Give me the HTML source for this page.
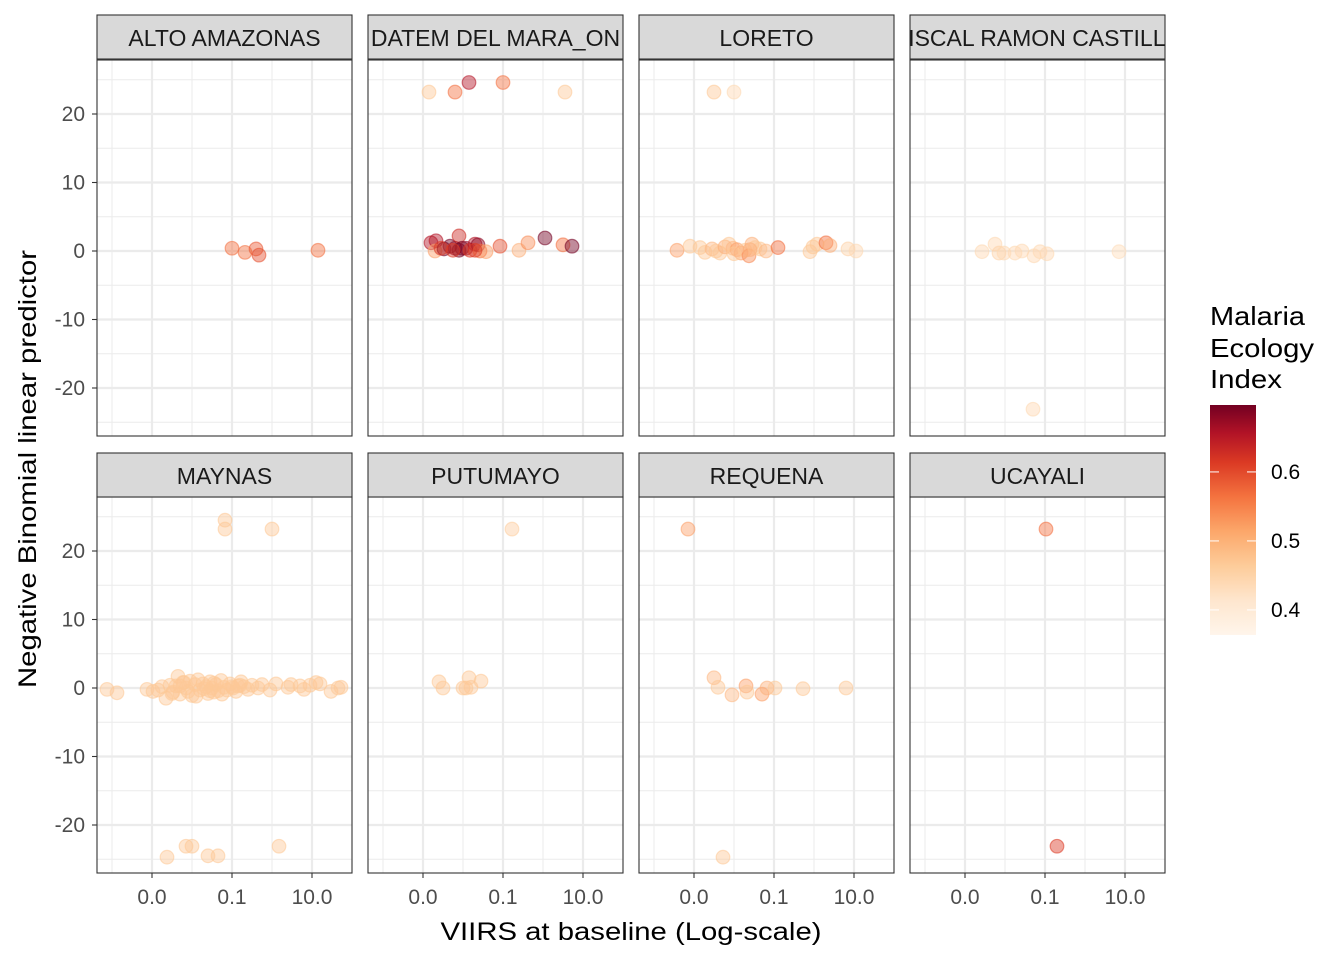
<!DOCTYPE html>
<html><head><meta charset="utf-8"><style>
body{margin:0;background:#fff;}
svg text{font-family:"Liberation Sans",Arial,sans-serif;}
</style></head><body>
<svg id="chart" width="1344" height="960" xmlns="http://www.w3.org/2000/svg">
<defs>
<linearGradient id="cbar" x1="0" y1="1" x2="0" y2="0">
<stop offset="0" stop-color="#fff5eb"/><stop offset="0.15" stop-color="#fee6ce"/><stop offset="0.3" stop-color="#fdcc9a"/><stop offset="0.45" stop-color="#fca76a"/><stop offset="0.6" stop-color="#f4733f"/><stop offset="0.75" stop-color="#db3a24"/><stop offset="0.88" stop-color="#b11226"/><stop offset="1" stop-color="#730022"/>
</linearGradient>
</defs>
<g id="panels"></g>
<text x="36" y="469" transform="rotate(-90 36 469)" text-anchor="middle" font-size="25" textLength="438" lengthAdjust="spacingAndGlyphs" fill="#000">Negative Binomial linear predictor</text>
<text x="631" y="940" text-anchor="middle" font-size="25" textLength="381" lengthAdjust="spacingAndGlyphs" fill="#000">VIIRS at baseline (Log-scale)</text>
<g>
<text x="1210" y="325" font-size="26" textLength="95" lengthAdjust="spacingAndGlyphs">Malaria</text>
<text x="1210" y="357" font-size="26" textLength="104" lengthAdjust="spacingAndGlyphs">Ecology</text>
<text x="1210" y="388" font-size="26" textLength="72" lengthAdjust="spacingAndGlyphs">Index</text>
<rect x="1210" y="405" width="46" height="230" fill="url(#cbar)"/>
<g id="cticks"></g>
</g>
</svg>
<script>
const NS="http://www.w3.org/2000/svg";
const panelNames=["ALTO AMAZONAS","DATEM DEL MARA_ON","LORETO","FISCAL RAMON CASTILLA","MAYNAS","PUTUMAYO","REQUENA","UCAYALI"];
const xTickVals=[-3,-1,1];
const xTickLabels=["0.0","0.1","10.0"];
const yTickVals=[20,10,0,-10,-20];
const yTickLabels=["20","10","0","-10","-20"];
const legendVals=[0.4,0.5,0.6];
// per-panel data: x = log10(VIIRS), y = linear predictor, m = malaria ecology index
const xAlto=[-1,-0.675,-0.4,-0.325,1.15];
const yAlto=[0.4,-0.2,0.3,-0.6,0.1];
const mAlto=[0.55,0.55,0.57,0.58,0.55];
const xDatem=[-2.85,-2.2,-1.85,-1,0.55,-2.8,-2.675,-2.7,-2.475,-2.325,-2.2,-2.1,-2.1,-2.025,-1.925,-1.825,-1.7,-1.625,-1.575,-1.425,-1.075,-0.6,-0.375,0.05,0.5,0.725,-2.55,-2.25,-1.7];
const yDatem=[23.2,23.2,24.6,24.6,23.2,1.2,1.5,0,0.3,0.7,0.4,2.2,0.1,0.4,0.4,0.1,1.0,0.9,0,-0.1,0.7,0.1,1.2,1.9,0.9,0.7,0.4,0.1,0.1];
const mDatem=[0.45,0.55,0.65,0.55,0.45,0.65,0.65,0.5,0.7,0.7,0.68,0.62,0.72,0.7,0.68,0.6,0.65,0.68,0.55,0.5,0.58,0.48,0.52,0.7,0.55,0.7,0.6,0.6,0.6];
const xLoreto=[-2.5,-2,-3.425,-3.1,-2.85,-2.725,-2.55,-2.45,-2.35,-2.225,-2.125,-2.025,-1.925,-1.825,-1.725,-1.625,-1.55,-1.475,-1.35,-1.2,-0.9,-0.1,-0.025,0.075,0.3,0.4,0.85,1.05,-2.0,-1.6];
const yLoreto=[23.2,23.2,0.1,0.7,0.5,-0.2,0.3,0,-0.3,0.6,1.0,0.4,0.2,-0.3,0.1,-0.7,1.0,0.5,0.3,0,0.5,-0.1,0.6,1.0,1.2,0.8,0.3,0,-0.4,0.2];
const mLoreto=[0.45,0.42,0.5,0.45,0.45,0.45,0.47,0.45,0.45,0.48,0.45,0.47,0.5,0.5,0.45,0.52,0.48,0.45,0.45,0.47,0.55,0.45,0.45,0.45,0.55,0.48,0.43,0.42,0.45,0.48];
const xFiscal=[-2.575,-2.25,-2.15,-2.025,-1.75,-1.575,-1.275,-1.125,-0.95,0.85,-1.3];
const yFiscal=[-0.1,1.0,-0.3,-0.3,-0.3,0,-0.7,-0.1,-0.4,-0.1,-23.1];
const mFiscal=[0.42,0.42,0.43,0.42,0.42,0.42,0.42,0.42,0.42,0.41,0.42];
const xMaynas=[-1.175,-1.175,0,-2.625,-2.15,-2.0,-1.6,-1.35,0.175,-4.125,-3.875,-3.125,-2.975,-2.85,-2.75,-2.65,-2.55,-2.475,-2.4,-2.35,-2.3,-2.225,-2.15,-2.1,-2.05,-2.0,-1.925,-1.85,-1.8,-1.725,-1.65,-1.6,-1.55,-1.5,-1.45,-1.4,-1.35,-1.275,-1.2,-1.125,-1.05,-0.975,-0.9,-0.85,-0.775,-0.7,-0.6,-0.5,-0.35,-0.25,-0.05,0.1,0.4,0.475,0.7,0.8,0.95,1.1,1.2,1.475,1.65,1.725,-2.5,-2.2,-1.9,-1.7,-1.45,-1.25,-1.0,-0.8,-2.3,-1.55];
const yMaynas=[24.5,23.2,23.2,-24.7,-23.1,-23.1,-24.5,-24.5,-23.1,-0.2,-0.7,-0.2,-0.5,-0.3,0.2,-1.5,0.4,-0.6,0.3,1.7,-0.9,0.8,0,-0.5,1.0,-1.1,0.5,1.2,-0.3,0.6,0.2,-0.8,0.9,0,-0.6,0.5,-0.4,1.1,0.1,-0.3,0.6,0,-0.5,0.3,0.9,0.2,-0.2,0.4,0,0.5,-0.3,0.6,0.1,0.5,0.3,-0.2,0.4,0.8,0.6,-0.5,0,0.1,-0.8,0.8,-1.2,-0.1,0.7,-0.9,0.2,0.4,0.3,-0.4];
const mMaynas=yMaynas.map(()=>0.45);
const xPutu=[-0.775,-2.6,-2.5,-2,-1.85,-1.8,-1.55,-1.925];
const yPutu=[23.2,0.9,0,0,1.5,0.1,1.0,0];
const mPutu=[0.44,0.45,0.45,0.45,0.45,0.45,0.45,0.45];
const xReq=[-3.15,-2.5,-2.4,-2.05,-1.7,-1.675,-1.3,-1.175,-0.975,-0.275,0.8,-2.275];
const yReq=[23.2,1.5,0.1,-1.0,0.3,-0.6,-0.9,0,0,-0.1,0,-24.7];
const mReq=[0.5,0.47,0.45,0.47,0.5,0.45,0.5,0.48,0.45,0.45,0.45,0.45];
const xUca=[-0.975,-0.7];
const yUca=[23.2,-23.1];
const mUca=[0.55,0.6];
const panelX=[xAlto,xDatem,xLoreto,xFiscal,xMaynas,xPutu,xReq,xUca];
const panelY=[yAlto,yDatem,yLoreto,yFiscal,yMaynas,yPutu,yReq,yUca];
const panelM=[mAlto,mDatem,mLoreto,mFiscal,mMaynas,mPutu,mReq,mUca];

const colX=[97,368,639,910], PW=255;
const rowStrip=[15,453], rowTop=[60,497], PH=376;
const xs=(v,c)=>colX[c]+55+(v+3)*40;
const ys=(v,r)=>rowTop[r]+191-v*6.85;
const stops=[[0.36,[255,245,235]],[0.4,[254,226,196]],[0.45,[253,200,150]],[0.5,[252,160,105]],[0.55,[243,112,64]],[0.6,[220,58,37]],[0.65,[180,20,38]],[0.7,[115,0,34]]];
function col(m){
  if(m<=stops[0][0])return `rgb(${stops[0][1]})`;
  for(let i=1;i<stops.length;i++){if(m<=stops[i][0]){const t=(m-stops[i-1][0])/(stops[i][0]-stops[i-1][0]);const a=stops[i-1][1],b=stops[i][1];return `rgb(${a.map((v,k)=>Math.round(v+(b[k]-v)*t)).join(',')})`;}}
  return `rgb(${stops[stops.length-1][1]})`;
}
function mk(tag,attrs,parent){const e=document.createElementNS(NS,tag);for(const k in attrs)e.setAttribute(k,attrs[k]);parent.appendChild(e);return e;}
const root=document.getElementById('panels');
for(let p=0;p<8;p++){
  const c=p%4,r=Math.floor(p/4);
  const g=mk('g',{},root);
  
  
  const x0=colX[c],y0=rowTop[r];
  mk('rect',{x:x0,y:y0,width:PW,height:PH,fill:'#fff'},g);
  [-4,-2,0,2].forEach(v=>{const X=xs(v,c);if(X>x0&&X<x0+PW)mk('line',{x1:X,x2:X,y1:y0,y2:y0+PH,stroke:'#ebebeb','stroke-width':1},g);});
  [25,15,5,-5,-15,-25].forEach(v=>{const Y=ys(v,r);mk('line',{x1:x0,x2:x0+PW,y1:Y,y2:Y,stroke:'#ebebeb','stroke-width':1},g);});
  xTickVals.forEach(v=>{const X=xs(v,c);mk('line',{x1:X,x2:X,y1:y0,y2:y0+PH,stroke:'#ebebeb','stroke-width':2.2},g);});
  yTickVals.forEach(v=>{const Y=ys(v,r);mk('line',{x1:x0,x2:x0+PW,y1:Y,y2:Y,stroke:'#ebebeb','stroke-width':2.2},g);});
  const xs_=panelX[p],ys_=panelY[p],ms=panelM[p];
  for(let i=0;i<xs_.length;i++){
    const cc=col(ms[i]);
    const pt=mk('circle',{cx:xs(xs_[i],c),cy:ys(ys_[i],r),r:6.8,fill:cc,'fill-opacity':0.45,stroke:cc,'stroke-opacity':0.55,'stroke-width':1.2},g);
    
    
  }
  mk('rect',{x:x0,y:y0,width:PW,height:PH,fill:'none',stroke:'#333','stroke-width':1.1},g);
  const sy=rowStrip[r];
  const strip=mk('rect',{x:x0,y:sy,width:PW,height:44,fill:'#d9d9d9',stroke:'#333','stroke-width':1.1},g);
  
  
  const cp=mk('clipPath',{id:'cp'+p},g);
  mk('rect',{x:x0,y:sy,width:PW,height:44},cp);
  const st=mk('text',{x:x0+PW/2,y:sy+31,'text-anchor':'middle','font-size':23,fill:'#1a1a1a','clip-path':`url(#cp${p})`},g);
  st.textContent=panelNames[p];
  
  
  if(c===0){yTickVals.forEach((v,i)=>{const Y=ys(v,r);mk('line',{x1:x0-5,x2:x0,y1:Y,y2:Y,stroke:'#333','stroke-width':1.1},g);
    const t=mk('text',{x:x0-12,y:Y+7,'text-anchor':'end','font-size':21,fill:'#4d4d4d'},g);t.textContent=yTickLabels[i];
    
    });}
  if(r===1){xTickVals.forEach((v,i)=>{const X=xs(v,c);mk('line',{x1:X,x2:X,y1:y0+PH,y2:y0+PH+5,stroke:'#333','stroke-width':1.1},g);
    const t=mk('text',{x:X,y:y0+PH+31,'text-anchor':'middle','font-size':21,fill:'#4d4d4d'},g);t.textContent=xTickLabels[i];
    
    });}
}
const ct=document.getElementById('cticks');
legendVals.forEach(v=>{const Y=405+(0.697-v)*690;
  mk('line',{x1:1210,x2:1219,y1:Y,y2:Y,stroke:'#fff','stroke-width':1},ct);
  mk('line',{x1:1247,x2:1256,y1:Y,y2:Y,stroke:'#fff','stroke-width':1},ct);
  const t=mk('text',{x:1271,y:Y+7,'font-size':21,fill:'#000'},ct);t.textContent=v.toFixed(1);
  
  });
</script>
</body></html>
